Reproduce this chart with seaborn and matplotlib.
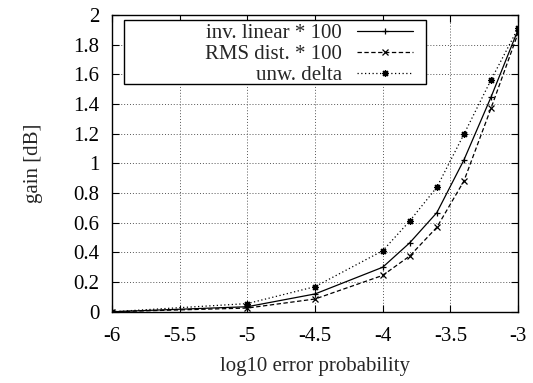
import matplotlib
matplotlib.use("Agg")
import matplotlib.pyplot as plt
from matplotlib.patches import Rectangle
import seaborn as sns
import pandas as pd

x_vals = [-6, -5, -4.5, -4, -3.8, -3.6, -3.4, -3.2, -3]
inv_linear = [0.0, 0.034, 0.12, 0.30, 0.465, 0.668, 1.023, 1.446, 1.90]
rms_dist = [0.0, 0.025, 0.086, 0.245, 0.376, 0.569, 0.881, 1.371, 1.877]
unw_delta = [0.0, 0.055, 0.169, 0.411, 0.612, 0.839, 1.196, 1.562, 1.911]
labels = ["inv. linear * 100", "RMS dist. * 100", "unw. delta"]
x_ticks = [-6, -5.5, -5, -4.5, -4, -3.5, -3]
y_ticks = [0, 0.2, 0.4, 0.6, 0.8, 1, 1.2, 1.4, 1.6, 1.8, 2]
y_ticklabels = ["0", "0.2", "0.4", "0.6", "0.8", "1", "1.2", "1.4", "1.6", "1.8", "2"]

sns.set_style("ticks")
plt.rcParams['font.family'] = ['Liberation Serif', 'DejaVu Serif']
plt.rcParams['font.size'] = 15

df = pd.DataFrame({
    "x": x_vals * 3,
    "y": inv_linear + rms_dist + unw_delta,
    "series": [labels[0]] * len(x_vals) + [labels[1]] * len(x_vals) + [labels[2]] * len(x_vals),
})

fig = plt.figure(figsize=(5.33, 3.83), dpi=100)
ax = fig.add_axes([0.210, 0.186, 0.762, 0.775])

sns.lineplot(data=df, x="x", y="y", style="series", style_order=labels,
             markers=["+", "x", (8, 2, 0)],
             dashes=["", (3.5, 2), (1, 2)],
             color="black", linewidth=0.9, markersize=5, markeredgewidth=0.9,
             markeredgecolor="black", ax=ax)

ax.set_xlim(-6, -3)
ax.set_ylim(0, 2)
ax.set_xticks(x_ticks)
ax.set_xticklabels([str(t) for t in x_ticks])
ax.set_yticks(y_ticks)
ax.set_yticklabels(y_ticklabels)
ax.tick_params(direction="in", length=5, top=True, right=True, labelsize=15, pad=9, width=0.8, colors="black")
ax.tick_params(axis="x", pad=11)
for s in ax.spines.values():
    s.set_visible(True)
    s.set_linewidth(1.0)
    s.set_color("black")
ax.grid(True, linestyle=(0, (1, 2)), color="#555555", linewidth=0.7)
ax.set_xlabel("log10 error probability", fontsize=15, labelpad=8)
ax.set_ylabel("gain [dB]", fontsize=15, labelpad=22)

# legend frame (gnuplot style: wide box, text right-aligned next to samples)
frame = Rectangle((0.0296, 0.767), 0.7436, 0.216, transform=ax.transAxes,
                  facecolor="white", edgecolor="black", linewidth=1.0, zorder=4)
ax.add_patch(frame)

handles, labs = ax.get_legend_handles_labels()
leg = ax.legend(handles, labs, loc="upper right", bbox_to_anchor=(0.741, 0.972),
                markerfirst=False, frameon=False,
                fontsize=15, handlelength=2.7, labelspacing=0.08, borderpad=0.0,
                handletextpad=0.7, borderaxespad=0)
leg.set_zorder(5)

fig.savefig("out.png", dpi=100)
